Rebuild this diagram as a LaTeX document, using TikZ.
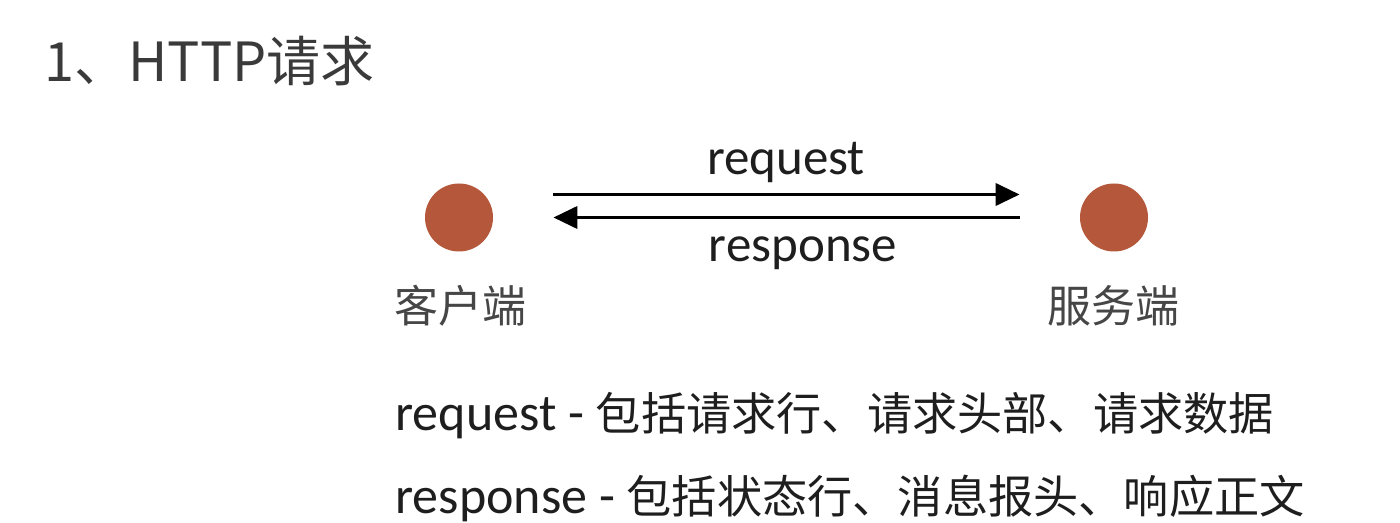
\documentclass[tikz,border=0pt]{standalone}
\usepackage{fontspec}
\setmainfont{Carlito}
\newfontfamily\cjk{Noto Sans CJK SC}
\usetikzlibrary{arrows.meta}
\definecolor{dotred}{RGB}{180,87,58}
\definecolor{titlegray}{RGB}{58,58,58}
\definecolor{bodyblack}{RGB}{30,30,30}
\definecolor{lblgray}{RGB}{70,70,70}
\tikzset{
  dot/.style={circle, fill=dotred, draw=none, minimum size=34pt, inner sep=0pt},
  conn/.style={line width=1.9pt, draw=black, -{Triangle[length=12pt,width=11pt]}},
  arrowlbl/.style={font=\fontsize{25.5}{28}\selectfont, text=bodyblack, inner sep=0pt, anchor=base},
  sidelbl/.style={font=\cjk\fontsize{22}{24}\selectfont, text=lblgray, inner sep=0pt, anchor=base},
  bodyline/.style={font=\fontsize{26}{28}\selectfont, text=bodyblack, inner sep=0pt, anchor=base west},
  titletext/.style={font=\cjk\fontsize{27}{30}\selectfont, text=titlegray, inner sep=0pt, anchor=base west}
}
\newcommand{\zh}[1]{{\cjk\fontsize{22.6}{26}\selectfont #1}}
\begin{document}
\begin{tikzpicture}[x=0.5pt, y=-0.5pt]
\useasboundingbox (0,0) rectangle (1400,523);
\fill[white] (0,0) rectangle (1400,523);

\node[titletext] (title) at (44,82) {1、HTTP请求};

\node[dot] (client) at (459,217.5) {};
\node[dot] (server) at (1114,217.5) {};

\draw[conn] ([shift={(60,-23)}]client.east) -- ([shift={(-60,-23)}]server.west);
\draw[conn] ([shift={(-60,0)}]server.west) -- ([shift={(60,0)}]client.east);

\node[arrowlbl] (reqlbl) at (786,175) {request};
\node[arrowlbl] (resplbl) at (803,262) {response};

\node[sidelbl] (clientlbl) at (460,322) {客户端};
\node[sidelbl] (serverlbl) at (1113,322) {服务端};

\node[bodyline] (reqline) at (395,430) {request - \zh{包括请求行、请求头部、请求数据}};
\node[bodyline] (respline) at (395,513) {response - \zh{包括状态行、消息报头、响应正文}};
\end{tikzpicture}
\end{document}
